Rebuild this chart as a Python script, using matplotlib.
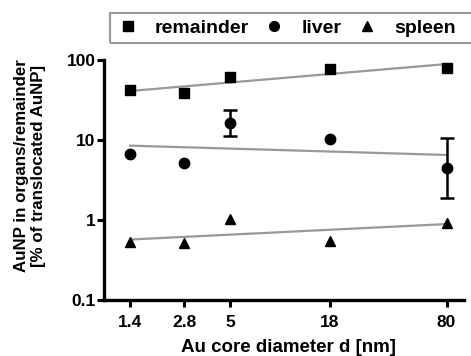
import matplotlib

matplotlib.use("Agg")
import matplotlib.pyplot as plt
from matplotlib.lines import Line2D
from matplotlib.patches import Rectangle

diameter = [1.4, 2.8, 5, 18, 80]
remainder = [42, 39, 62, 77, 80]
liver = [6.6, 5.1, 16.5, 10.4, 4.5]
liver_err_lo = [None, None, 11.3, None, 1.9]
liver_err_hi = [None, None, 23.8, None, 10.5]
spleen = [0.53, 0.52, 1.03, 0.55, 0.93]

fit_x = [1.4, 80]
fit_remainder = [41, 89]
fit_liver = [8.5, 6.5]
fit_spleen = [0.57, 0.89]

plt.rcParams["font.family"] = ["Liberation Sans", "DejaVu Sans"]
plt.rcParams["font.weight"] = "bold"

fig = plt.figure(figsize=(4.71, 3.56), dpi=100)
ax = fig.add_axes([104 / 471, 1 - 300 / 356, 360 / 471, 240 / 356])

gray = "#999999"
for fit in (fit_remainder, fit_liver, fit_spleen):
    ax.plot(fit_x, fit, color=gray, lw=1.6, zorder=2)

ax.plot(diameter, remainder, "s", color="black", ms=7, ls="none", zorder=3)
ax.plot(diameter, liver, "o", color="black", ms=7.5, ls="none", zorder=3)
ax.plot(diameter, spleen, "^", color="black", ms=7.5, ls="none", zorder=3)

for x, y, lo, hi in zip(diameter, liver, liver_err_lo, liver_err_hi):
    if lo is None:
        continue
    ax.errorbar([x], [y], yerr=[[y - lo], [hi - y]], fmt="none", ecolor="black",
                elinewidth=1.8, capsize=5, capthick=1.8, zorder=3)

ax.set_xscale("log")
ax.set_yscale("log")
ax.set_xlim(1, 100)
ax.set_ylim(0.1, 100)
ax.set_xticks(diameter)
ax.set_xticklabels(["1.4", "2.8", "5", "18", "80"])
ax.set_yticks([0.1, 1, 10, 100])
ax.set_yticklabels(["0.1", "1", "10", "100"])
ax.minorticks_off()

for side in ("top", "right"):
    ax.spines[side].set_visible(False)
for side in ("left", "bottom"):
    ax.spines[side].set_linewidth(2.4)
ax.tick_params(width=2.2, length=5, labelsize=12.5)
ax.tick_params(axis="x", pad=6)
ax.tick_params(axis="y", pad=1)
for lab in ax.get_xticklabels() + ax.get_yticklabels():
    lab.set_fontweight("bold")

fig.text(288 / 471, 1 - 347 / 356, "Au core diameter d [nm]", fontsize=13.5,
         fontweight="bold", ha="center", va="center")
fig.text(30 / 471, 1 - 166 / 356, "AuNP in organs/remainder\n[% of translocated AuNP]",
         fontsize=12.2, fontweight="bold", rotation=90, ha="center", va="center",
         multialignment="center", linespacing=1.1)

# legend frame runs off the right edge of the figure
fig.patches.append(Rectangle((110 / 471, 1 - 43 / 356), 0.9, 30 / 356,
                             transform=fig.transFigure, fill=False,
                             edgecolor=gray, lw=1.5))
handles = [
    Line2D([], [], marker="s", color="black", ls="none", ms=7),
    Line2D([], [], marker="o", color="black", ls="none", ms=7),
    Line2D([], [], marker="^", color="black", ls="none", ms=7),
]
fig.legend(handles, ["remainder", "liver", "spleen"], ncol=3, frameon=False,
           loc="center left", bbox_to_anchor=(118 / 471, 1 - 28 / 356),
           prop={"size": 14, "weight": "bold"}, handlelength=1.0,
           handletextpad=0.9, columnspacing=0.8, borderpad=0, borderaxespad=0)

fig.savefig("out.png", dpi=100)
